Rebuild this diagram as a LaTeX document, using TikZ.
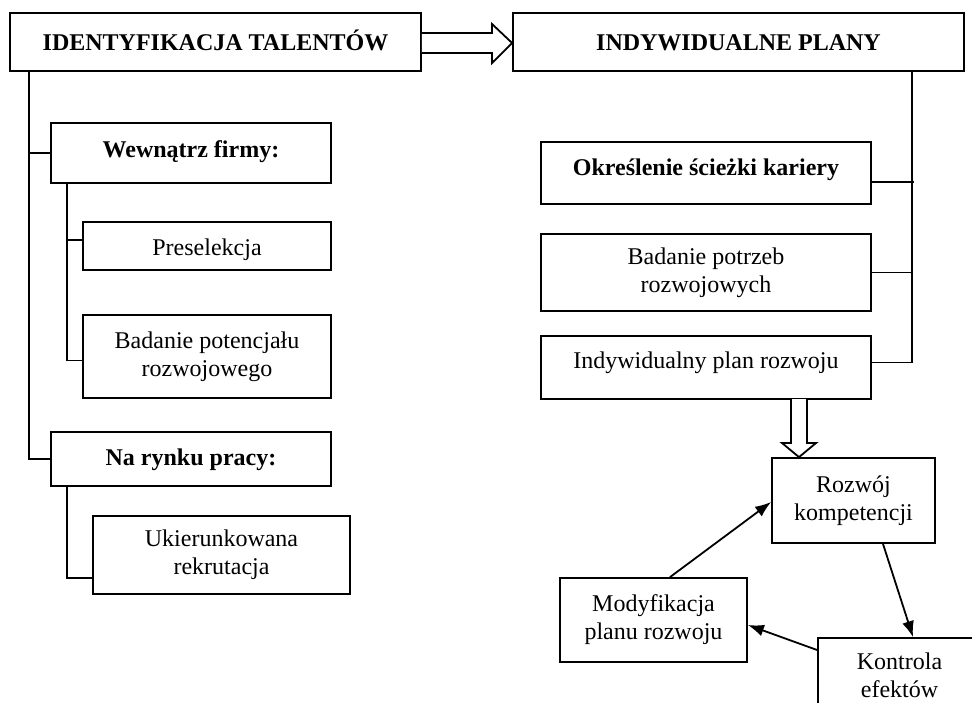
\documentclass[tikz,border=0pt]{standalone}
\usepackage{fontspec}
\setmainfont{Liberation Serif}
\usetikzlibrary{arrows.meta}
\begin{document}
\begin{tikzpicture}[x=1pt,y=-1pt,
  box/.style={draw, line width=1.8pt, inner sep=2pt, align=center, font=\fontsize{24}{28}\selectfont},
  bbox/.style={box, font=\fontsize{24}{28}\selectfont\bfseries},
  conn/.style={line width=1.8pt},
  arr/.style={line width=1.8pt, -{Latex[length=16pt,width=12pt]}},
  blockarr/.style={draw, line width=1.8pt, fill=white, line join=miter}]
\clip (0,0) rectangle (972,702);
\fill[white] (0,0) rectangle (972,702);
% top boxes
\node[bbox, minimum width=411pt, minimum height=58pt, text height=20pt, text depth=4pt] (ident) at (215.5,42) {IDENTYFIKACJA TALENTÓW};
\node[bbox, minimum width=451pt, minimum height=58pt, text height=20pt, text depth=4pt] (plany) at (738.5,42) {INDYWIDUALNE PLANY};
% left tree
\node[bbox, minimum width=280pt, minimum height=60pt, text height=16pt, text depth=8pt] (wew) at (191,153) {Wewnątrz firmy:};
\node[box, minimum width=248pt, minimum height=48pt, text height=21pt, text depth=3pt] (presel) at (207,246) {Preselekcja};
\node[box, minimum width=248pt, minimum height=83pt] (badpot) at (207,356.5) {Badanie potencjału\\rozwojowego};
\node[bbox, minimum width=280pt, minimum height=54pt, text height=18pt, text depth=6pt] (rynek) at (191,459) {Na rynku pracy:};
\node[box, minimum width=257pt, minimum height=78pt] (ukier) at (221.5,555) {Ukierunkowana\\rekrutacja};
% right column
\node[bbox, minimum width=330pt, minimum height=62pt, text height=14pt, text depth=10pt] (okr) at (706,173) {Określenie ścieżki kariery};
\node[box, minimum width=330pt, minimum height=77pt] (badpotrz) at (706,272.5) {Badanie potrzeb\\rozwojowych};
\node[box, minimum width=330pt, minimum height=63pt, text height=13pt, text depth=11pt] (ipr) at (706,367.5) {Indywidualny plan rozwoju};
% cycle
\node[box, minimum width=163pt, minimum height=85pt] (rozw) at (853.5,500.5) {Rozwój\\kompetencji};
\node[box, minimum width=187pt, minimum height=84pt] (modyf) at (653.5,620) {Modyfikacja\\planu rozwoju};
\node[box, minimum width=163pt, minimum height=74pt] (kontr) at (899.5,675) {Kontrola\\efektów};
% tree connectors
\coordinate (L1) at (29,0);
\coordinate (L2) at (67,0);
\coordinate (R1) at (912,0);
\draw[conn] (ident.south -| L1) |- (rynek.west);
\draw[conn] (L1 |- wew.west) -- (wew.west);
\draw[conn] (wew.south -| L2) |- ([yshift=-4pt]badpot.west);
\draw[conn] (L2 |- presel.west) ++(0,-6) -- ([yshift=6pt]presel.west);
\draw[conn] (rynek.south -| L2) |- ([yshift=-23pt]ukier.west);
\draw[conn] (plany.south -| R1) |- ([yshift=5pt]ipr.east);
\draw[conn] ([yshift=-9pt]okr.east) -- ++(42,0);
\draw[conn] (badpotrz.east) -- (R1 |- badpotrz.east);
% block arrows
\draw[blockarr] (ident.east |- 0,33) -- (492,33) -- (492,24) -- (plany.west |- 0,43) -- (492,63) -- (492,53) -- (ident.east |- 0,53);
\draw[blockarr] (791,399) -- (791,443) -- (782,443) -- (rozw.north -| 799,0) -- (816,443) -- (807,443) -- (807,399);
% cycle arrows
\draw[arr] ([xshift=16.5pt]modyf.north) -- ([yshift=-1.5pt]rozw.west);
\draw[arr] ([xshift=29.5pt]rozw.south) -- (kontr.north -| 913,0);
\draw[arr] ([yshift=25pt]kontr.west) -- ([yshift=-5pt]modyf.east);
\end{tikzpicture}
\end{document}
